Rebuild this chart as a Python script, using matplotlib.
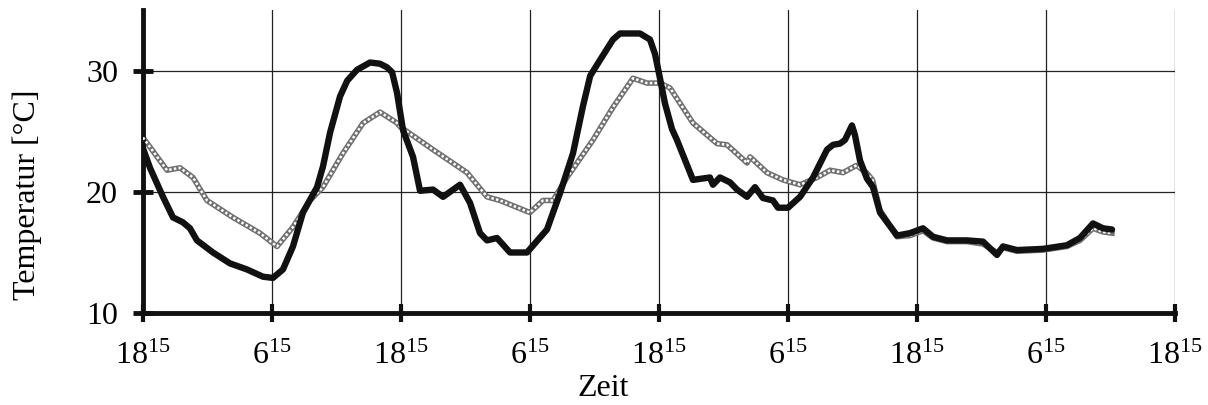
import matplotlib
matplotlib.use("Agg")
import matplotlib.pyplot as plt

plt.rcParams['font.family'] = ['Liberation Serif', 'DejaVu Serif']
plt.rcParams['mathtext.fontset'] = 'custom'
plt.rcParams['mathtext.rm'] = 'Liberation Serif'

# time in hours after 18:15 of day 1
black_t = [0.0, 0.65, 1.86, 2.79, 3.70, 4.37, 5.02, 6.51, 8.09, 9.67, 11.16, 12.09, 13.02,
           13.95, 14.88, 16.19, 16.74, 17.40, 18.33, 19.0, 19.91, 21.12, 22.05, 22.70,
           23.17, 23.63, 24.19, 25.12, 25.77, 26.98, 27.91, 29.49, 30.42, 31.35, 32.0,
           32.93, 34.14, 35.72, 37.58, 38.79, 40.0, 40.93, 41.60, 42.51, 43.72, 44.37,
           46.23, 47.16, 47.63, 48.09, 48.56, 49.21, 49.67, 51.16, 52.74, 53.02, 53.67,
           54.60, 55.26, 56.19, 56.93, 57.67, 58.60, 59.07, 60.0, 61.12, 62.33, 63.63,
           64.19, 64.84, 65.30, 65.95, 66.23, 66.70, 67.35, 67.91, 68.56, 70.14, 71.35,
           72.56, 73.49, 74.79, 76.65, 78.14, 79.44, 80.0, 81.30, 83.72, 85.95, 87.16,
           88.37, 89.30, 90.14]
black_v = [23.6, 22.0, 19.6, 17.9, 17.5, 17.0, 16.0, 15.0, 14.1, 13.6, 13.0, 12.9, 13.6,
           15.5, 18.3, 20.4, 22.1, 24.9, 27.9, 29.2, 30.1, 30.7, 30.6, 30.3,
           29.9, 28.2, 25.1, 22.9, 20.1, 20.2, 19.6, 20.6, 19.1, 16.6, 16.0,
           16.2, 15.0, 15.0, 16.9, 19.9, 23.2, 27.1, 29.6, 30.9, 32.6, 33.1,
           33.1, 32.6, 31.4, 29.4, 27.3, 25.2, 24.3, 21.0, 21.2, 20.6, 21.2,
           20.8, 20.2, 19.6, 20.4, 19.5, 19.3, 18.7, 18.7, 19.6, 21.2, 23.5,
           23.9, 24.0, 24.3, 25.5, 24.7, 22.6, 21.1, 20.4, 18.3, 16.4, 16.6,
           17.0, 16.3, 16.0, 16.0, 15.9, 14.8, 15.5, 15.2, 15.3, 15.6, 16.2,
           17.4, 17.0, 16.9]

grey_t = [0.0, 2.23, 3.44, 4.65, 5.95, 8.37, 10.88, 12.47, 13.95, 15.53, 16.74, 18.60,
          20.47, 22.05, 23.63, 23.91, 26.98, 30.14, 32.0, 33.21, 36.0, 37.21, 38.14,
          39.44, 41.86, 43.72, 45.58, 46.88, 48.09, 49.02, 51.16, 53.40, 54.33, 56.19,
          56.47, 58.05, 59.53, 61.12, 62.70, 63.91, 65.12, 66.37, 67.30, 67.86, 68.56,
          70.14, 71.35, 72.56, 73.49, 74.79, 76.65, 78.14, 79.44, 80.0, 81.30, 83.72,
          85.95, 87.16, 88.37, 89.30, 90.14]
grey_v = [24.5, 21.8, 22.0, 21.2, 19.3, 17.9, 16.6, 15.5, 17.1, 19.3, 20.4, 23.2,
          25.7, 26.6, 25.7, 25.4, 23.5, 21.6, 19.6, 19.3, 18.3, 19.3, 19.3,
          21.2, 24.3, 27.0, 29.4, 29.0, 29.0, 28.6, 25.7, 24.0, 23.9, 22.4,
          22.9, 21.6, 21.0, 20.6, 21.2, 21.8, 21.6, 22.2, 21.6, 21.0, 18.5,
          16.3, 16.4, 16.8, 16.2, 15.9, 15.9, 15.7, 15.0, 15.4, 15.1, 15.2,
          15.5, 16.0, 17.0, 16.7, 16.6]

xtick_pos = [0, 12, 24, 36, 48, 60, 72, 84, 96]
xtick_labels = [r'$\mathregular{18^{15}}$', r'$\mathregular{6^{15}}$'] * 4 + [r'$\mathregular{18^{15}}$']
ytick_pos = [10, 20, 30]

W, H = 1208, 405
fig = plt.figure(figsize=(W / 100, H / 100), dpi=100)
ax = fig.add_axes([143 / W, 1 - 313 / H, (1175 - 143) / W, (313 - 10) / H])
ax.set_xlim(0, 96)
ax.set_ylim(10, 35.04)

for x in xtick_pos:
    ax.axvline(x, color='#222222', lw=0.9, zorder=1)
for y in [20, 30]:
    ax.axhline(y, color='#222222', lw=0.9, zorder=1)

ax.plot(grey_t, grey_v, color='#707070', lw=4.0, zorder=2, solid_joinstyle='round')
ax.plot(grey_t, grey_v, color='white', lw=1.8, ls=(0, (1.0, 0.9)), zorder=3)
ax.plot(black_t, black_v, color='#111111', lw=4.6, zorder=4,
        solid_joinstyle='round', solid_capstyle='round')

for s in ['top', 'right']:
    ax.spines[s].set_visible(False)
for s in ['left', 'bottom']:
    ax.spines[s].set_linewidth(3.5)
    ax.spines[s].set_color('#111111')

ax.set_xticks(xtick_pos)
ax.set_xticklabels(xtick_labels, fontsize=23)
ax.set_yticks(ytick_pos)
ax.set_yticklabels([str(v) for v in ytick_pos], fontsize=23)
ax.tick_params(axis='x', direction='inout', length=13, width=3, pad=14, color='#111111')
ax.tick_params(axis='y', direction='inout', length=14, width=3.5, pad=11, color='#111111')

fig.text(603 / W, 1 - 389 / H, 'Zeit', fontsize=23, ha='center', va='center')
fig.text(27 / W, 1 - 195 / H, 'Temperatur [°C]', fontsize=23, ha='center', va='center',
         rotation=90)

fig.savefig('out.png', dpi=100)
